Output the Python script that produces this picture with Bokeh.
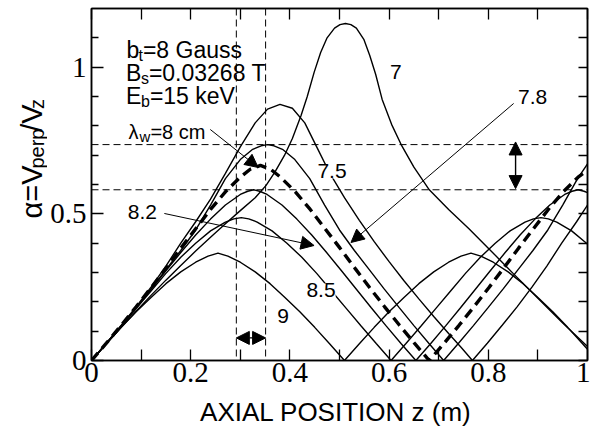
import numpy as np
from bokeh.plotting import figure
from bokeh.layouts import row
from bokeh.models import (Range1d, LinearAxis, FixedTicker, CustomJSTickFormatter,
                          Label, Arrow, NormalHead, Span)
from bokeh.embed import file_html
from bokeh.resources import INLINE

# ---------------- data ----------------
x_major = [0, 0.2, 0.4, 0.6, 0.8, 1]
x_minor = [0.1, 0.3, 0.5, 0.7, 0.9]
x_all = [0, 0.1, 0.2, 0.3, 0.4, 0.5, 0.6, 0.7, 0.8, 0.9, 1]
y_major = [0, 0.5, 1]
y_minor = [0.1, 0.2, 0.3, 0.4, 0.6, 0.7, 0.8, 0.9, 1.1]
y_all = [0, 0.1, 0.2, 0.3, 0.4, 0.5, 0.6, 0.7, 0.8, 0.9, 1, 1.1]

# lambda_w = 9 cm
z_9 = [0, 0.03, 0.06, 0.09, 0.12, 0.15, 0.18, 0.21, 0.235, 0.255, 0.275, 0.30, 0.33, 0.36, 0.39,
       0.42, 0.45, 0.48, 0.51, 0.54, 0.57, 0.60, 0.63, 0.66, 0.69, 0.72, 0.745, 0.765, 0.785,
       0.81, 0.84, 0.87, 0.90, 0.93, 0.96, 0.99, 1.0]
a_9 = [0, 0.057, 0.113, 0.166, 0.215, 0.262, 0.302, 0.335, 0.356, 0.366, 0.356, 0.335, 0.302,
       0.262, 0.215, 0.166, 0.113, 0.057, 0, 0.057, 0.113, 0.166, 0.215, 0.262, 0.302, 0.335,
       0.356, 0.366, 0.356, 0.335, 0.302, 0.262, 0.215, 0.166, 0.113, 0.057, 0.038]
# lambda_w = 8.5 cm
z_85 = [0, 0.03, 0.06, 0.09, 0.12, 0.15, 0.18, 0.21, 0.24, 0.27, 0.287, 0.302, 0.317, 0.334,
        0.364, 0.394, 0.424, 0.454, 0.484, 0.514, 0.544, 0.574, 0.604, 0.634, 0.664, 0.694,
        0.724, 0.754, 0.784, 0.814, 0.844, 0.874, 0.891, 0.906, 0.921, 0.938, 0.968, 0.998, 1.0]
a_85 = [0, 0.058, 0.117, 0.177, 0.237, 0.297, 0.352, 0.400, 0.442, 0.472, 0.483, 0.487, 0.483,
        0.472, 0.442, 0.400, 0.352, 0.297, 0.237, 0.177, 0.117, 0.058, 0, 0.058, 0.117, 0.177,
        0.237, 0.297, 0.352, 0.400, 0.442, 0.472, 0.483, 0.487, 0.483, 0.472, 0.442, 0.400, 0.397]
# lambda_w = 8.2 cm
z_82 = [0, 0.03, 0.06, 0.09, 0.12, 0.15, 0.18, 0.21, 0.24, 0.27, 0.30, 0.315, 0.327, 0.339,
        0.354, 0.384, 0.414, 0.444, 0.474, 0.504, 0.534, 0.564, 0.594, 0.624, 0.654, 0.684,
        0.714, 0.744, 0.774, 0.804, 0.834, 0.864, 0.894, 0.924, 0.954, 0.969, 0.981, 0.993, 1.0]
a_82 = [0, 0.058, 0.118, 0.180, 0.243, 0.306, 0.368, 0.428, 0.482, 0.530, 0.566, 0.577, 0.582,
        0.577, 0.566, 0.530, 0.482, 0.428, 0.368, 0.306, 0.243, 0.180, 0.118, 0.058, 0, 0.058,
        0.118, 0.180, 0.243, 0.306, 0.368, 0.428, 0.482, 0.530, 0.566, 0.577, 0.582, 0.577, 0.572]
# lambda_w = 8 cm (dashed)
z_8 = [0, 0.03, 0.06, 0.09, 0.12, 0.15, 0.18, 0.21, 0.24, 0.27, 0.30, 0.32, 0.3405, 0.361,
       0.381, 0.411, 0.441, 0.471, 0.501, 0.531, 0.561, 0.591, 0.621, 0.651, 0.681, 0.711,
       0.741, 0.771, 0.801, 0.831, 0.861, 0.891, 0.921, 0.951, 0.981, 1.0]
a_8 = [0, 0.059, 0.12, 0.183, 0.248, 0.315, 0.383, 0.449, 0.515, 0.575, 0.625, 0.652, 0.665,
       0.652, 0.625, 0.575, 0.515, 0.449, 0.383, 0.315, 0.248, 0.183, 0.12, 0.059, 0, 0.059,
       0.12, 0.183, 0.248, 0.315, 0.383, 0.449, 0.515, 0.575, 0.625, 0.648]
# lambda_w = 7.8 cm
z_78 = [0, 0.03, 0.06, 0.09, 0.12, 0.15, 0.18, 0.21, 0.24, 0.27, 0.30, 0.325, 0.342, 0.355,
        0.368, 0.385, 0.41, 0.44, 0.47, 0.50, 0.53, 0.56, 0.59, 0.62, 0.65, 0.68, 0.71, 0.74,
        0.77, 0.80, 0.83, 0.86, 0.89, 0.92, 0.95, 0.98, 1.0]
a_78 = [0, 0.059, 0.119, 0.181, 0.244, 0.31, 0.375, 0.445, 0.53, 0.62, 0.685, 0.72, 0.732,
        0.736, 0.732, 0.72, 0.685, 0.62, 0.53, 0.445, 0.375, 0.31, 0.244, 0.181, 0.119, 0.059,
        0, 0.059, 0.119, 0.181, 0.244, 0.31, 0.375, 0.445, 0.53, 0.62, 0.67]
# lambda_w = 7.5 cm
z_75 = [0, 0.03, 0.06, 0.09, 0.12, 0.15, 0.18, 0.21, 0.24, 0.27, 0.30, 0.33, 0.355, 0.38,
        0.405, 0.43, 0.455, 0.48, 0.51, 0.54, 0.57, 0.60, 0.63, 0.66, 0.69, 0.72, 0.745, 0.768,
        0.798, 0.828, 0.858, 0.888, 0.918, 0.948, 0.978, 1.0]
a_75 = [0, 0.059, 0.12, 0.183, 0.25, 0.322, 0.4, 0.473, 0.55, 0.638, 0.728, 0.81, 0.857, 0.873,
        0.86, 0.81, 0.725, 0.64, 0.555, 0.478, 0.405, 0.337, 0.272, 0.21, 0.15, 0.092, 0.045, 0,
        0.059, 0.12, 0.183, 0.25, 0.322, 0.4, 0.473, 0.53]
# lambda_w = 7 cm
z_7 = [0, 0.03, 0.06, 0.09, 0.12, 0.15, 0.18, 0.21, 0.24, 0.27, 0.30, 0.33, 0.352, 0.37, 0.389,
       0.405, 0.4225, 0.435, 0.449, 0.462, 0.475, 0.49, 0.501, 0.512, 0.523, 0.534, 0.549, 0.561,
       0.573, 0.586, 0.605, 0.624, 0.65, 0.681, 0.72, 0.761, 0.80, 0.85, 0.90, 0.95, 1.0]
a_7 = [0, 0.057, 0.113, 0.168, 0.222, 0.274, 0.324, 0.373, 0.42, 0.466, 0.511, 0.555, 0.597,
       0.643, 0.699, 0.757, 0.835, 0.9, 0.983, 1.05, 1.1, 1.133, 1.145, 1.149, 1.145, 1.133,
       1.095, 1.04, 0.975, 0.89, 0.805, 0.737, 0.659, 0.582, 0.515, 0.449, 0.383, 0.297, 0.212,
       0.128, 0.048]

guide_alpha = [0.736, 0.582]      # horizontal dashed guides
guide_z = [0.292, 0.351]          # vertical dashed guides

SANS = "Liberation Sans"
SERIF = "Liberation Serif"
W1 = 47  # width of the strip holding the rotated y title


def X(px):
    return (px - 90) / 497.0


def Y(py):
    return (360 - py) / 293.3


p = figure(width=590 - W1, height=431, output_backend="svg", toolbar_location=None,
           x_range=Range1d(0, 1), y_range=Range1d(0, 1.2),
           min_border_left=90 - W1, min_border_right=3, min_border_top=8, min_border_bottom=71)
p.grid.visible = False
p.outline_line_color = "black"
p.outline_line_width = 1.5
p.background_fill_color = "white"
p.border_fill_color = "white"

fmt = CustomJSTickFormatter(code="return String(tick);")


def style_axis(ax, ticker, major_len, minor_len, labels):
    ax.ticker = ticker
    ax.axis_line_color = "black"
    ax.axis_line_width = 1.5
    ax.major_tick_line_color = "black"
    ax.minor_tick_line_color = "black"
    ax.major_tick_line_width = 1.3
    ax.minor_tick_line_width = 1.3
    ax.major_tick_in = major_len
    ax.major_tick_out = 0
    ax.minor_tick_in = minor_len
    ax.minor_tick_out = 0
    if labels:
        ax.formatter = fmt
        ax.major_label_text_font = SERIF
        ax.major_label_text_font_size = "29px"
        ax.major_label_text_color = "black"
    else:
        ax.major_label_standoff = 0


xa = p.xaxis[0]
style_axis(xa, FixedTicker(ticks=x_major, minor_ticks=x_minor), 11, 11, True)
xa.major_label_standoff = 2
xa.axis_label = "AXIAL POSITION  z (m)"
xa.axis_label_text_font = SANS
xa.axis_label_text_font_size = "26px"
xa.axis_label_text_font_style = "normal"
xa.axis_label_text_color = "black"
xa.axis_label_standoff = 12

ya = p.yaxis[0]
style_axis(ya, FixedTicker(ticks=y_major, minor_ticks=y_minor), 12, 7, True)
ya.major_label_standoff = 5

top = LinearAxis()
style_axis(top, FixedTicker(ticks=[], minor_ticks=x_all), 11, 11, False)
p.add_layout(top, "above")
right = LinearAxis()
style_axis(right, FixedTicker(ticks=[], minor_ticks=y_all), 9, 9, False)
p.add_layout(right, "right")

# guides
for g in guide_alpha:
    p.add_layout(Span(location=g, dimension="width", line_color="black",
                      line_width=1, line_dash="7 4"))
for g in guide_z:
    p.add_layout(Span(location=g, dimension="height", line_color="black",
                      line_width=1, line_dash="7 4"))

# curves
for zz, aa in [(z_9, a_9), (z_85, a_85), (z_82, a_82), (z_78, a_78), (z_75, a_75), (z_7, a_7)]:
    p.line(zz, aa, line_color="black", line_width=1.4)
p.line(z_8, a_8, line_color="black", line_width=3.4, line_dash="10 6")


def head():
    return NormalHead(size=13, fill_color="black", line_color="black", line_width=1)


def arrow(x0, y0, x1, y1, both=False, lw=1.0):
    p.add_layout(Arrow(start=head() if both else None, end=head(),
                       x_start=x0, y_start=y0, x_end=x1, y_end=y1,
                       line_color="black", line_width=lw))


# double arrows
arrow(0.855, 0.586, 0.855, 0.745, both=True, lw=1.4)
arrow(guide_z[0], 0.077, guide_z[1], 0.077, both=True, lw=1.4)
# leaders
arrow(X(163), Y(213), X(313), Y(245))
arrow(X(513), Y(103), X(350), Y(242))
arrow(X(209), Y(129), X(257), Y(167))


def lab(fig, txt, x, y, size, align="left", baseline="alphabetic", angle=0.0, bg=None):
    l = Label(x=x, y=y, text=txt, text_font=SANS, text_font_size=f"{size}px",
              text_align=align, text_baseline=baseline, angle=angle, text_color="black")
    if bg is not None:
        l.background_fill_color = bg
    fig.add_layout(l)


def plab(txt, px, py, size, align="left", baseline="alphabetic", bg=None):
    lab(p, txt, X(px), Y(py), size, align, baseline, 0.0, bg)


# curve labels
plab("7", 395, 72, 21, "center", "middle")
plab("7.5", 331, 171, 21, "center", "middle", bg="white")
plab("7.8", 532, 97, 21, "center", "middle")
plab("8.2", 141, 212, 21, "center", "middle")
plab("8.5", 320, 290, 21, "center", "middle", bg="white")
plab("9", 282, 316, 21, "center", "middle")

# parameter block
plab("b", 125, 50, 23)
plab("t", 137, 55, 16)
plab("=8 Gauss", 141.5, 50, 23)
plab("B", 124.5, 73, 23)
plab("s", 139.5, 78, 16)
plab("=0.03268 T", 147.5, 73, 23)
plab("E", 124.5, 96, 23)
plab("b", 139.5, 101, 16)
plab("=15 keV", 148.5, 96, 23)
plab("λ", 127, 132, 20)
plab("w", 138, 136, 15)
plab("=8 cm", 149, 132, 20)

# strip with the rotated y-axis title
ylab = figure(width=W1, height=431, output_backend="svg", toolbar_location=None,
              x_range=Range1d(0, W1), y_range=Range1d(0, 431),
              x_axis_type=None, y_axis_type=None,
              min_border=0, min_border_left=0, min_border_right=0,
              min_border_top=0, min_border_bottom=0)
ylab.grid.visible = False
ylab.outline_line_color = None
ylab.background_fill_color = "white"
ylab.border_fill_color = "white"

rot = np.pi / 2
lab(ylab, "α=V", 31, 431 - 257, 29, angle=rot)
lab(ylab, "perp", 36, 431 - 196, 20, angle=rot)
lab(ylab, "/V", 31, 431 - 151, 29, angle=rot)
lab(ylab, "z", 36, 431 - 123, 20, angle=rot)

layout = row(ylab, p, spacing=0)
open("out.html", "w").write(file_html(layout, INLINE))
